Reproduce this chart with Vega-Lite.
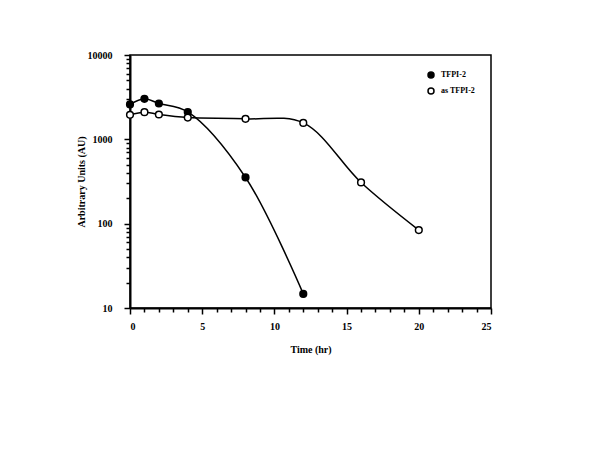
{
  "$schema": "https://vega.github.io/schema/vega-lite/v6.json",
  "width": 361,
  "height": 253,
  "autosize": {"type": "none"},
  "padding": {"left": 130, "top": 55, "right": 109, "bottom": 142},
  "background": "white",
  "config": {
    "view": {"stroke": "black", "strokeWidth": 1.5},
    "font": "Liberation Serif",
    "axis": {"grid": false, "domainColor": "black", "domainWidth": 2, "tickColor": "black", "tickWidth": 1.5, "labelColor": "black", "titleColor": "black", "labelFont": "Liberation Serif", "titleFont": "Liberation Serif", "labelFontWeight": "bold", "titleFontWeight": "bold", "labelFontSize": 10, "titleFontSize": 10}
  },
  "data": {
    "values": [
      {"time": 0, "value": 2590, "series": "TFPI-2"},
      {"time": 1, "value": 3020, "series": "TFPI-2"},
      {"time": 2, "value": 2660, "series": "TFPI-2"},
      {"time": 4, "value": 2110, "series": "TFPI-2"},
      {"time": 8, "value": 353, "series": "TFPI-2"},
      {"time": 12, "value": 14.7, "series": "TFPI-2"},
      {"time": 0, "value": 1950, "series": "as TFPI-2"},
      {"time": 1, "value": 2100, "series": "as TFPI-2"},
      {"time": 2, "value": 1970, "series": "as TFPI-2"},
      {"time": 4, "value": 1810, "series": "as TFPI-2"},
      {"time": 8, "value": 1750, "series": "as TFPI-2"},
      {"time": 12, "value": 1565, "series": "as TFPI-2"},
      {"time": 16, "value": 308, "series": "as TFPI-2"},
      {"time": 20, "value": 84, "series": "as TFPI-2"}
    ]
  },
  "resolve": {"axis": {"x": "independent", "y": "independent"}},
  "layer": [
    {
      "mark": {"type": "line", "interpolate": "catmull-rom", "color": "black", "strokeWidth": 1.5},
      "encoding": {
        "x": {"field": "time", "type": "quantitative", "scale": {"domain": [0, 25], "nice": false, "zero": false},
          "axis": {"orient": "bottom", "title": "Time (hr)", "values": [0, 5, 10, 15, 20, 25], "tickSize": 6, "labelPadding": 7, "titlePadding": 13}},
        "y": {"field": "value", "type": "quantitative", "scale": {"type": "log", "domain": [10, 10000], "nice": false},
          "axis": {"orient": "left", "title": "Arbitrary Units (AU)", "values": [10, 100, 1000, 10000], "format": "d", "tickSize": 6, "labelPadding": 12, "titlePadding": 1}},
        "detail": {"field": "series"}
      }
    },
    {
      "mark": {"type": "point", "opacity": 0},
      "encoding": {
        "x": {"field": "time", "type": "quantitative",
          "axis": {"orient": "bottom", "title": null, "labels": false, "domain": false, "tickSize": 4, "values": [1,2,3,4,6,7,8,9,11,12,13,14,16,17,18,19,21,22,23,24]}},
        "y": {"field": "value", "type": "quantitative",
          "axis": {"orient": "left", "title": null, "labels": false, "domain": false, "tickSize": 4, "values": [20,30,40,50,60,70,80,90,200,300,400,500,600,700,800,900,2000,3000,4000,5000,6000,7000,8000,9000]}}
      }
    },
    {
      "mark": {"type": "point", "shape": "circle", "filled": true, "size": 45, "stroke": "black", "strokeWidth": 1.5, "opacity": 1},
      "encoding": {
        "x": {"field": "time", "type": "quantitative", "axis": null},
        "y": {"field": "value", "type": "quantitative", "axis": null},
        "fill": {"field": "series", "type": "nominal",
          "scale": {"domain": ["TFPI-2", "as TFPI-2"], "range": ["black", "white"]},
          "legend": {"orient": "none", "legendX": 297, "legendY": 16, "title": null, "padding": 0, "symbolType": "circle", "symbolSize": 36, "symbolStrokeColor": "black", "symbolStrokeWidth": 1.5, "labelFont": "Liberation Serif", "labelFontWeight": "bold", "labelFontSize": 8, "labelColor": "black", "rowPadding": 4, "labelOffset": 6}}
      }
    }
  ]
}
